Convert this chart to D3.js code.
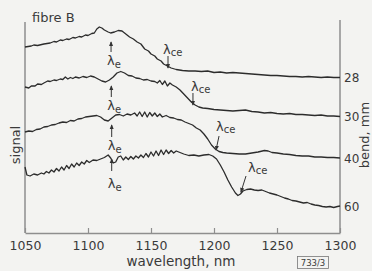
<!DOCTYPE html>
<html>
<head>
<meta charset="utf-8">
<script src="https://cdn.jsdelivr.net/npm/d3@7"></script>
<style>
  html, body { margin: 0; padding: 0; background: #f3f3f1; }
  svg { display: block; font-family: "DejaVu Sans", sans-serif; }
  .curve { fill: none; stroke: #2c2c2c; stroke-width: 1.3; stroke-linejoin: round; }
  .frame { stroke: #8e8e8e; stroke-width: 1.5; }
  .lbl { fill: #3a3a3a; }
  .mark { stroke: #333; stroke-width: 1; }
</style>
</head>
<body>
<div id="viz"></div>
<script>
// wavelength (nm) / signal (arb. units) for each bend
var bend28 = [[1050,186],[1055,187],[1057,188],[1060,187.5],[1065,189],[1070,190],[1073,191.5],[1075,191],[1078,193],[1080,192.5],[1083,194],[1085,193.5],[1088,195.5],[1090,195],[1093,196.5],[1095,196],[1098,198],[1100,197.5],[1103,199.5],[1105,200],[1107,204],[1109,206],[1111,205],[1113,203],[1116,201],[1118,200],[1121,201],[1124,202.5],[1127,202],[1130,199],[1133,196],[1136,194],[1139,191],[1142,189],[1145,184],[1148,182],[1150,179],[1153,177],[1155,174],[1158,172],[1160,169],[1163,167],[1166,165],[1170,163.5],[1175,162.5],[1180,162],[1185,162],[1190,161.5],[1195,162],[1200,160.5],[1205,161],[1210,160],[1215,160.5],[1220,160],[1225,159.5],[1230,159],[1235,158.5],[1240,158],[1245,157.5],[1250,157.5],[1255,157],[1260,156.5],[1265,156.5],[1270,156],[1275,156.5],[1280,156],[1285,155.5],[1290,156],[1295,155.5],[1300,155.5]];
var bend30 = [[1050,146],[1053,145],[1055,147],[1058,147],[1060,149],[1063,148.5],[1065,150],[1068,152],[1070,151.5],[1073,153],[1075,152.5],[1078,154],[1080,153.5],[1082,156],[1084,154],[1086,155.5],[1088,154.5],[1090,156],[1093,155],[1096,156.5],[1099,155.5],[1102,157],[1105,156],[1108,154],[1111,152],[1114,151],[1117,153],[1120,156],[1123,160],[1126,161.5],[1129,160],[1132,157.5],[1135,157],[1138,155],[1141,154.5],[1144,153],[1147,153.5],[1150,152],[1153,151.5],[1155,150],[1157,152.5],[1159,148.5],[1161,152],[1163,147],[1165,150],[1167,148],[1170,146],[1173,143],[1176,139],[1179,135],[1182,131],[1185,128],[1188,126],[1191,125],[1195,124.5],[1200,123.5],[1205,123],[1210,122.5],[1215,122],[1220,122.5],[1225,123],[1230,121.5],[1235,121],[1240,120],[1245,120.5],[1250,119.5],[1255,119],[1260,119.5],[1265,118.5],[1270,118.5],[1275,118],[1280,117.5],[1285,118],[1290,117],[1295,117],[1300,116.5]];
var bend40 = [[1050,101],[1053,102],[1056,101.5],[1059,103.5],[1062,104],[1065,106],[1068,106.5],[1071,108],[1074,108.5],[1077,110],[1080,111],[1083,110.5],[1086,112.5],[1089,112],[1092,114],[1095,114.5],[1098,116],[1101,116.5],[1104,117],[1107,117.5],[1110,116],[1113,113],[1116,112],[1119,115],[1122,118],[1125,118.5],[1128,117],[1131,119],[1134,118],[1137,120],[1139,117],[1141,121],[1143,116.5],[1145,121],[1147,116],[1149,120.5],[1151,117],[1153,120],[1155,116.5],[1157,119],[1159,116],[1162,117.5],[1165,115.5],[1168,115],[1171,113.5],[1174,113],[1177,111],[1180,109.5],[1183,108],[1186,105],[1189,103],[1192,99],[1195,94],[1198,88],[1201,84],[1204,81.5],[1207,80.5],[1210,80],[1215,79.5],[1220,79],[1225,79],[1230,80],[1235,81],[1240,82.5],[1243,82],[1246,80.5],[1250,80],[1255,79],[1260,78.5],[1265,77.5],[1270,77],[1275,77],[1280,76],[1285,76],[1290,75.5],[1295,75.5],[1300,75]];
var bend60 = [[1050,66],[1051.5,58],[1054,57],[1057,59],[1060,58],[1063,60],[1065,59],[1067,61.5],[1069,60],[1071,63],[1073,61],[1075,64.5],[1077,62],[1079,66],[1081,63],[1083,67.5],[1085,64.5],[1087,69],[1089,66],[1091,70],[1093,67.5],[1095,71],[1097,69],[1099,72.5],[1101,70.5],[1104,73],[1107,72.5],[1110,74],[1113,75.5],[1116,78],[1118,75],[1120,70],[1122,71],[1124,76],[1126,77],[1128,73],[1130,76],[1132,73.5],[1134,76.5],[1136,74],[1138,77],[1140,75],[1142,78],[1144,75.5],[1146,79.5],[1148,76],[1150,81],[1152,77],[1154,82],[1156,77.5],[1158,83],[1160,78.5],[1162,83],[1164,79.5],[1166,82.5],[1168,80],[1170,82],[1173,80.5],[1176,79],[1180,77.5],[1184,78],[1188,77],[1192,78],[1196,78.5],[1199,77],[1202,74],[1205,68],[1208,61],[1211,53],[1214,46],[1217,40],[1219,37.5],[1221,39],[1223,42],[1226,43.5],[1229,44],[1232,43],[1235,42.5],[1238,43],[1241,41.5],[1244,40],[1247,39],[1250,38],[1253,36.5],[1256,35],[1259,34],[1262,32.5],[1265,32],[1268,31],[1271,30],[1274,30.5],[1277,29],[1280,28],[1283,27.5],[1286,26.5],[1289,26],[1292,26.5],[1295,25.5],[1298,26.5],[1300,27]];

var series = [bend28, bend30, bend40, bend60];
var bendLabels = ["28", "30", "40", "60"];
var waveTicks = [1050, 1100, 1150, 1200, 1250, 1300];

// lambda_e marks: wavelength, arrow tip, arrow tail, label baseline (signal units)
var eMarks = [[1118.3,191,181,168],[1118.5,147,136,123],[1118.8,108,96,83],[1118.8,74,62,45]];
// lambda_ce marks: tail nm, tail signal, tip nm, tip signal, label nm, label baseline
var ceMarks = [[1163.5,177,1163.5,165,1159.5,179],[1183.3,140,1183.3,128,1181.7,142],[1204,97,1201.6,83,1201.6,102],[1225.4,57,1221.4,41,1227,61]];

var W = 372, H = 271;
var x = d3.scaleLinear().domain([1050, 1300]).range([25, 340]);
var y = d3.scaleLinear().domain([0, 213]).range([233, 20]);

var svg = d3.select("#viz").append("svg").attr("width", W).attr("height", H);

svg.append("defs").append("marker")
    .attr("id", "head")
    .attr("viewBox", "0 0 6 6")
    .attr("refX", 5).attr("refY", 3)
    .attr("markerWidth", 5).attr("markerHeight", 5)
    .attr("orient", "auto")
  .append("path").attr("d", "M0,0.5L6,3L0,5.5Z").attr("fill", "#333");

// frame: left, right, bottom
svg.append("line").attr("class", "frame").attr("x1", x(1050)).attr("x2", x(1050)).attr("y1", y(211)).attr("y2", y(0));
svg.append("line").attr("class", "frame").attr("x1", x(1300)).attr("x2", x(1300)).attr("y1", y(213)).attr("y2", y(0));

var xAxis = svg.append("g")
    .attr("transform", "translate(0," + y(0) + ")")
    .call(d3.axisBottom(x).tickValues(waveTicks).tickFormat(d3.format("d")).tickSize(-5).tickSizeOuter(0).tickPadding(8));
xAxis.select(".domain").attr("stroke", "#8e8e8e").attr("stroke-width", 1.5);
xAxis.selectAll(".tick line").attr("stroke", "#8e8e8e").attr("stroke-width", 1.2);
xAxis.selectAll(".tick text").attr("fill", "#3a3a3a").style("font-size", "12.5px").style("font-family", "DejaVu Sans");

var line = d3.line().x(function(d) { return x(d[0]); }).y(function(d) { return y(d[1]); });

svg.selectAll("path.curve")
    .data(series)
  .enter().append("path")
    .attr("class", "curve")
    .attr("d", line);

// bend labels at right end of each trace
svg.selectAll("text.bend")
    .data(series)
  .enter().append("text")
    .attr("class", "lbl")
    .attr("x", x(1300) + 4)
    .attr("y", function(d) { return y(d[d.length - 1][1]) + 1; })
    .attr("dominant-baseline", "middle")
    .style("font-size", "12px")
    .text(function(d, i) { return bendLabels[i]; });

// lambda_e arrows + labels
eMarks.forEach(function(m) {
  svg.append("line").attr("class", "mark")
      .attr("x1", x(m[0])).attr("x2", x(m[0]))
      .attr("y1", y(m[2])).attr("y2", y(m[1]))
      .attr("marker-end", "url(#head)");
  var t = svg.append("text").attr("class", "lbl")
      .attr("x", x(m[0]) - 4).attr("y", y(m[3]))
      .style("font-size", "13px").text("λ");
  t.append("tspan").attr("dy", 3).style("font-size", "10px").text("e");
});

// lambda_ce arrows + labels
ceMarks.forEach(function(m) {
  svg.append("line").attr("class", "mark")
      .attr("x1", x(m[0])).attr("x2", x(m[2]))
      .attr("y1", y(m[1])).attr("y2", y(m[3]))
      .attr("marker-end", "url(#head)");
  var t = svg.append("text").attr("class", "lbl")
      .attr("x", x(m[4])).attr("y", y(m[5]))
      .style("font-size", "13px").text("λ");
  t.append("tspan").attr("dy", 2).style("font-size", "10px").text("ce");
});

svg.append("text").attr("class", "lbl")
    .attr("x", 32).attr("y", 22)
    .style("font-size", "13px").text("fibre B");

svg.append("text").attr("class", "lbl")
    .attr("text-anchor", "middle")
    .attr("transform", "translate(19.5,145) rotate(-90)")
    .style("font-size", "13px").text("signal");

svg.append("text").attr("class", "lbl")
    .attr("text-anchor", "middle")
    .attr("transform", "translate(369,135) rotate(-90)")
    .style("font-size", "13px").text("bend, mm");

svg.append("text").attr("class", "lbl")
    .attr("x", 181).attr("y", 266)
    .attr("text-anchor", "middle")
    .style("font-size", "13.5px").text("wavelength, nm");

svg.append("rect")
    .attr("x", 297.5).attr("y", 256.5).attr("width", 31).attr("height", 12)
    .attr("fill", "none").attr("stroke", "#777").attr("stroke-width", 0.8);
svg.append("text").attr("class", "lbl")
    .attr("x", 313).attr("y", 266)
    .attr("text-anchor", "middle")
    .style("font-size", "8.5px").text("733/3");
</script>
</body>
</html>
